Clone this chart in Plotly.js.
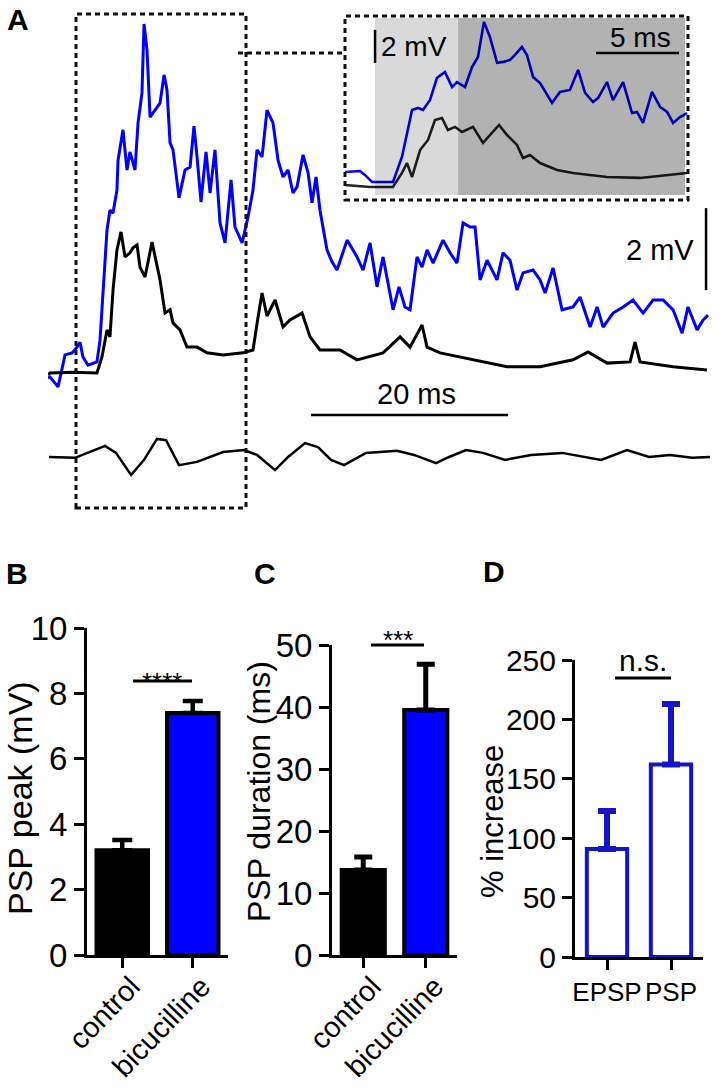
<!DOCTYPE html>
<html><head><meta charset="utf-8">
<script src="https://cdn.plot.ly/plotly-3.0.1.min.js"></script>
<style>html,body{margin:0;padding:0;background:#fff}#chart{width:721px;height:1091px}</style>
</head><body><div id="chart"></div>
<script>
// ---------- Panel A: main recordings (time in ms, potential in mV) ----------
const blueTime = [0,0.20,1.02,1.73,2.44,2.94,3.25,3.55,4.06,4.97,5.28,5.58,5.79,5.99,6.29,6.60,7.00,7.11,7.61,8.02,8.32,8.83,9.14,9.54,9.75,10.05,10.36,10.86,11.37,11.78,12.08,12.39,12.69,13.30,13.91,14.42,14.82,15.13,15.53,16.04,16.45,16.95,17.46,17.97,18.58,18.98,19.70,20.30,20.81,21.22,21.73,22.23,22.84,23.35,23.86,24.37,24.87,25.28,25.89,26.40,26.80,27.21,27.61,28.32,28.83,29.34,30.36,31.37,31.98,32.69,33.40,34.01,35.03,35.63,36.24,36.75,37.46,37.97,38.48,39.09,40.10,40.81,41.52,42.13,42.84,43.35,43.86,44.57,45.58,46.19,46.90,47.61,48.22,49.24,49.95,50.46,51.27,52.18,53.30,54.01,55.03,55.74,56.35,57.36,58.38,59.39,60.41,61.42,62.44,63.45,64.37,64.97,65.89,66.50,67.00];
const blueMv = [-0.07,-0.05,-0.29,0.49,0.54,0.68,0.80,0.44,0.24,0.32,0.85,2.07,2.98,3.54,4.02,3.95,4.51,5.24,5.98,5.00,5.44,5.00,6.15,6.88,8.56,7.93,6.29,6.46,6.63,7.32,6.95,5.66,5.49,4.32,5.00,5.07,6.07,5.32,4.22,5.44,4.44,5.49,3.71,3.22,4.76,3.61,3.22,3.85,4.51,5.49,5.32,6.46,6.15,5.24,4.83,5.00,4.44,4.59,5.37,4.93,4.20,4.83,4.02,3.05,2.76,2.56,3.29,2.88,2.56,3.22,2.15,2.88,1.59,2.15,1.66,1.59,2.88,2.63,3.05,2.73,3.29,2.98,2.73,3.71,3.61,3.61,2.32,2.80,2.32,2.98,2.80,2.07,2.49,2.56,2.32,2.00,2.61,1.59,1.66,1.90,1.17,1.66,1.17,1.51,1.66,1.83,1.51,1.83,1.83,1.59,1.02,1.66,1.10,1.34,1.46];

const controlTime = [0,0.20,2.54,4.97,5.48,5.99,6.29,6.60,7.00,7.41,7.82,8.32,8.63,9.04,9.34,9.85,10.56,10.86,11.37,11.88,12.39,12.69,13.40,14.11,15.13,16.14,17.77,19.80,20.81,21.32,21.73,22.23,23.05,23.86,24.57,25.79,26.60,27.61,29.64,31.37,34.01,35.74,36.75,37.97,38.48,39.80,43.15,46.60,49.95,53.30,54.82,56.75,59.09,59.59,60.10,63.45,66.90];
const controlMv = [0,0.05,0.07,0.05,0.44,1.10,0.93,2.07,3.05,3.49,2.88,2.98,3.10,3.17,2.63,2.39,3.24,2.88,2.32,1.51,1.59,1.27,1.10,0.68,0.68,0.54,0.49,0.54,0.61,1.41,2.00,1.44,1.83,1.17,1.34,1.51,0.93,0.61,0.61,0.37,0.54,0.93,0.68,1.22,0.68,0.54,0.37,0.20,0.20,0.37,0.56,0.29,0.32,0.80,0.32,0.20,0.12];

const lowerTime = [0.10,2.74,5.79,6.90,8.43,9.75,11.07,11.98,13.30,15.13,17.77,19.90,21.22,23.05,24.37,26.09,27.41,28.73,30.05,32.28,35.43,37.16,39.39,40.71,42.44,44.16,46.40,49.04,52.18,54.31,56.14,58.78,61.01,63.15,65.38,67.21];
const lowerMv = [0,-0.02,0.27,0.10,-0.44,-0.07,0.44,0.41,-0.20,-0.12,0.12,0.17,0.05,-0.32,0,0.34,0.24,-0.07,-0.20,0.10,0.15,0.05,-0.15,0,0.17,0.10,-0.07,0.05,0.10,0,-0.07,0.17,0,0.05,-0.02,0];

// ---------- Panel A inset ----------
const insetBlueTime = [0,0.90,1.20,1.63,2.89,3.43,4.04,4.40,4.70,5.12,5.54,6.02,6.45,6.75,7.23,7.65,8.01,8.37,8.73,9.16,9.52,9.94,10.24,10.66,10.96,11.33,11.75,12.47,12.95,13.55,14.04,14.46,14.94,15.24,15.78,16.14,16.75,17.29,17.59,17.95,18.49,18.98,19.40,19.76,20.18,20.60];
const insetBlueMv = [0.91,0.97,0.73,0.30,0.30,1.82,4.67,4.79,4.67,5.27,6.61,6.97,6.06,6.36,6.06,7.27,7.88,10.00,9.09,7.52,7.58,7.70,8.00,8.48,8.00,6.67,6.30,5.09,5.76,5.88,7.09,5.70,5.15,5.39,6.36,5.27,6.36,4.48,4.55,3.88,5.76,4.85,4.55,3.88,4.24,4.48];
const insetControlTime = [0,1.51,2.89,3.43,3.73,4.04,4.52,5.00,5.42,5.84,6.20,6.63,7.05,7.71,8.31,8.86,9.28,9.76,10.36,10.72,11.14,11.75,12.77,13.73,15.78,17.77,19.76,20.60];
const insetControlMv = [0.12,0,0,0.85,1.45,0.61,2.24,2.85,4.06,4.18,3.45,3.64,3.33,3.64,2.67,3.27,3.76,3.15,2.55,1.76,1.94,1.45,1.03,0.85,0.61,0.55,0.73,0.85];

// ---------- Panels B, C, D ----------
const groupLabels = ['control', 'bicucilline'];
const peakMean = [3.2, 7.4];
const peakSem = [0.32, 0.37];
const durationMean = [13.7, 39.5];
const durationSem = [2.1, 7.4];
const increaseLabels = ['EPSP', 'PSP'];
const increaseMean = [91, 162];
const increaseSem = [32, 51];

// ---------- layout helpers ----------
const W = 721, H = 1091;
const fx = p => p / W;
const fy = p => 1 - p / H;
const FONT = 'Liberation Sans, Arial, Helvetica, sans-serif';
const BLUE = '#0000ff';
const DBLUE = '#1515c8';

const traces = [
  {type:'scatter', mode:'lines', x:blueTime, y:blueMv, xaxis:'x', yaxis:'y', line:{color:BLUE, width:3}, name:'bicucilline'},
  {type:'scatter', mode:'lines', x:controlTime, y:controlMv, xaxis:'x', yaxis:'y', line:{color:'#000', width:3}, name:'control'},
  {type:'scatter', mode:'lines', x:lowerTime, y:lowerMv, xaxis:'x', yaxis:'y2', line:{color:'#000', width:2.5}, name:'lower'},
  {type:'scatter', mode:'lines', x:insetBlueTime, y:insetBlueMv, xaxis:'x3', yaxis:'y3', line:{color:BLUE, width:2.6}, name:'inset bicucilline'},
  {type:'scatter', mode:'lines', x:insetControlTime, y:insetControlMv, xaxis:'x3', yaxis:'y3', line:{color:'#222', width:2.6}, name:'inset control'},
  {type:'bar', x:groupLabels, y:peakMean, xaxis:'x4', yaxis:'y4', width:0.73,
   marker:{color:['#000', BLUE], line:{color:'#000', width:4}},
   error_y:{type:'data', array:peakSem, arrayminus:[0,0], symmetric:false, color:'#000', thickness:4.5, width:10}},
  {type:'bar', x:groupLabels, y:durationMean, xaxis:'x5', yaxis:'y5', width:0.69,
   marker:{color:['#000', BLUE], line:{color:'#000', width:4}},
   error_y:{type:'data', array:durationSem, arrayminus:[0,0], symmetric:false, color:'#000', thickness:5, width:9}},
  {type:'bar', x:increaseLabels, y:increaseMean, xaxis:'x6', yaxis:'y6', width:0.63,
   marker:{color:['#fff', '#fff'], line:{color:DBLUE, width:4}},
   error_y:{type:'data', array:increaseSem, arrayminus:[0,0], symmetric:false, color:DBLUE, thickness:6, width:9}}
];

function barX(d0, d1, anchor, angle, fs, shift, standoff) {
  return {domain:[fx(d0), fx(d1)], range:[-0.5, 1.5], type:'category', anchor:anchor,
    showline:true, linewidth:3, linecolor:'#000', ticks:'outside', ticklen:10, tickwidth:3, tickcolor:'#000',
    tickangle:angle, ticklabelshift:shift, ticklabelstandoff:standoff,
    tickfont:{family:FONT, size:fs, color:'#000'}, showgrid:false, zeroline:false, fixedrange:true};
}
function barY(p0, p1, anchor, range, dtick, fs) {
  return {domain:[fy(p1), fy(p0)], range:range, dtick:dtick, tick0:0, anchor:anchor,
    showline:true, linewidth:3, linecolor:'#000', ticks:'outside', ticklen:10, tickwidth:3, tickcolor:'#000',
    tickfont:{family:FONT, size:fs, color:'#000'}, showgrid:false, zeroline:false, fixedrange:true};
}

const dashed = {color:'#111', width:3, dash:'5px,4px'};
const solid = w => ({color:'#000', width:w});

const layout = {
  width:W, height:H, margin:{l:0, r:0, t:0, b:0},
  paper_bgcolor:'#fff', plot_bgcolor:'rgba(0,0,0,0)', showlegend:false,
  font:{family:FONT, color:'#000'},
  xaxis:{domain:[fx(48), fx(710)], range:[0, 67.2], visible:false, anchor:'y', fixedrange:true},
  yaxis:{domain:[fy(420), fy(0)], range:[-1.0976, 9.1463], visible:false, anchor:'x', fixedrange:true},
  yaxis2:{domain:[fy(495), fy(425)], range:[-0.927, 0.78], visible:false, anchor:'x', fixedrange:true},
  xaxis3:{domain:[fx(345), fx(688)], range:[0, 20.66], visible:false, anchor:'y3', fixedrange:true},
  yaxis3:{domain:[fy(200), fy(17)], range:[-0.788, 10.30], visible:false, anchor:'x3', fixedrange:true},
  xaxis4:barX(87, 228, 'y4', -46, 29, 9, -10),
  yaxis4:barY(628, 955, 'x4', [0, 10], 2, 33),
  xaxis5:barX(332, 457, 'y5', -46, 29, 9, -10),
  yaxis5:barY(645, 955, 'x5', [0, 50], 10, 33),
  xaxis6:barX(575, 703, 'y6', 0, 26, 0, 0),
  yaxis6:barY(660, 957, 'x6', [0, 250], 50, 30),
  shapes:[
    // inset shading
    {type:'rect', xref:'x3', yref:'y3', x0:1.81, x1:6.81, y0:-0.485, y1:10.24, fillcolor:'rgba(0,0,0,0.15)', line:{width:0}, layer:'above'},
    {type:'rect', xref:'x3', yref:'y3', x0:6.81, x1:20.48, y0:-0.485, y1:10.24, fillcolor:'rgba(0,0,0,0.30)', line:{width:0}, layer:'above'},
    // dashed boxes and connector
    {type:'rect', xref:'paper', yref:'paper', x0:fx(76), x1:fx(246), y0:fy(508), y1:fy(14), line:dashed},
    {type:'line', xref:'paper', yref:'paper', x0:fx(238), x1:fx(345), y0:fy(53), y1:fy(53), line:dashed},
    {type:'rect', xref:'paper', yref:'paper', x0:fx(345), x1:fx(688), y0:fy(200), y1:fy(16), line:dashed},
    // scale bars (data units)
    {type:'line', xref:'x', yref:'y', x0:26.7, x1:46.7, y0:-0.976, y1:-0.976, line:solid(2.5)},
    {type:'line', xref:'x', yref:'y', x0:66.8, x1:66.8, y0:2.07, y1:4.07, line:solid(2.5)},
    {type:'line', xref:'x3', yref:'y3', x0:1.81, x1:1.81, y0:7.52, y1:9.52, line:solid(2.5)},
    {type:'line', xref:'x3', yref:'y3', x0:15.12, x1:20.12, y0:8.12, y1:8.12, line:solid(2.5)},
    // significance lines
    {type:'line', xref:'paper', yref:'paper', x0:fx(133), x1:fx(192), y0:fy(681), y1:fy(681), line:solid(3)},
    {type:'line', xref:'paper', yref:'paper', x0:fx(371), x1:fx(424), y0:fy(645), y1:fy(645), line:solid(3)},
    {type:'line', xref:'paper', yref:'paper', x0:fx(615), x1:fx(671), y0:fy(678), y1:fy(678), line:solid(3)}
  ],
  annotations:[]
};

function note(text, x, y, size, opts) {
  layout.annotations.push(Object.assign({text:text, xref:'paper', yref:'paper', x:fx(x), y:fy(y),
    xanchor:'center', yanchor:'middle', showarrow:false, font:{family:FONT, size:size, color:'#000'}}, opts || {}));
}
note('<b>A</b>', 18, 19, 30);
note('<b>B</b>', 17, 573, 30);
note('<b>C</b>', 265, 573, 30);
note('<b>D</b>', 494, 571, 30);
note('2 mV', 660, 250, 29);
note('20 ms', 416, 394, 29);
note('2 mV', 379, 47, 28, {xanchor:'left'});
note('5 ms', 640, 38, 28);
note('****', 162, 682, 26);
note('***', 398, 640, 26);
note('n.s.', 643, 660, 30);
note('PSP peak (mV)', 20, 798, 34, {textangle:-90});
note('PSP duration (ms)', 259, 792, 32, {textangle:-90});
note('% increase', 492, 822, 31, {textangle:-90});

Plotly.newPlot('chart', traces, layout, {staticPlot:true, displayModeBar:false});
</script>
</body></html>
